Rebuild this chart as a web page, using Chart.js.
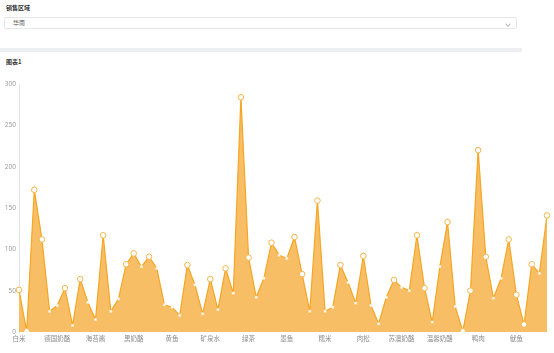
<!DOCTYPE html>
<html>
<head>
<meta charset="utf-8">
<script src="https://cdn.jsdelivr.net/npm/chart.js@4.4.0/dist/chart.umd.min.js"></script>
<style>
  html, body { margin: 0; padding: 0; background: #fff; width: 554px; height: 353px; overflow: hidden;
    font-family: "Noto Sans CJK SC", "Noto Sans", sans-serif; }
  .lbl { position: absolute; left: 6px; font-size: 6px; font-weight: bold; color: #333; line-height: 1; }
  .select { position: absolute; left: 4px; top: 17px; width: 513px; height: 12px; border: 1px solid #e6e6e6;
    border-radius: 2px; box-sizing: border-box; }
  .select span { position: absolute; left: 8px; top: 2px; font-size: 6px; color: #555; line-height: 1; }
  .chev { position: absolute; right: 6px; top: 4px; width: 3px; height: 3px; border-right: 1px solid #bbb;
    border-bottom: 1px solid #bbb; transform: rotate(45deg); }
  .band { position: absolute; left: 0; top: 48px; width: 522px; height: 4px; background: #eceef2; }
  #wrap { position: absolute; left: 0; top: 76px; width: 554px; height: 272px; }
</style>
</head>
<body>
<div class="lbl" style="top:5px">销售区域</div>
<div class="select"><span>华南</span><div class="chev"></div></div>
<div class="band"></div>
<div class="lbl" style="top:59px">图表1</div>
<div id="wrap"><canvas id="c" width="554" height="272"></canvas></div>
<script>
const categories = [
  "白米","白奶酪","饼干","糙米","大众奶酪","德国奶酪","蕃茄酱","光明奶酪","桂花糕","海参",
  "海苔酱","海鲜粉","蚝油","盒装牛奶","黑麦面包","黑奶酪","胡椒粉","花生","花生酱","黄豆",
  "黄鱼","鸡","鸡精","酱油","烤肉酱","矿泉水","辣椒酱","浪花奶酪","龙虾","芦笋",
  "绿茶","麻油","玫瑰茶","蜜桃汁","蘑菇","墨鱼","奶茶","柠檬汁","牛奶","牛肉干",
  "糯米","啤酒","苹果汁","葡萄干","巧克力","肉松","三合一麦片","沙茶","山渣片","薯条",
  "苏澳奶酪","糖果","甜酱","土豆","味精","温馨奶酪","虾米","虾子","小米","熏鱼",
  "鸭肉","盐","燕麦","椰奶","意大利奶酪","鱿鱼","玉米片","运动饮料","猪肉","猪肉干"
];
const salesValues = [
  51, 1, 172, 112, 25, 32, 53, 8, 64, 36,
  15, 117, 25, 40, 82, 95, 79, 91, 77, 33,
  30, 20, 81, 57, 22, 64, 27, 77, 47, 284,
  90, 42, 65, 108, 93, 89, 115, 70, 25, 159,
  25, 30, 81, 60, 35, 92, 32, 10, 42, 63,
  54, 50, 117, 53, 12, 79, 133, 31, 1, 50,
  220, 91, 41, 65, 112, 45, 9, 82, 71, 141
];
const yTicks = [0, 50, 100, 150, 200, 250, 300];
const labelEvery = 5;
// marker style per point (true = hollow ring, false = small dot) -- style only
const ringMarkers = [
  1,1,1,1,0,0,1,0,1,0, 0,1,0,0,1,1,0,1,0,0, 0,0,1,0,0,1,0,1,0,1,
  1,0,0,1,0,0,1,1,0,1, 0,0,1,0,0,1,0,0,0,1, 0,0,1,1,0,0,1,0,1,1,
  1,1,0,0,1,1,1,1,0,1
];

const ctx = document.getElementById('c').getContext('2d');
new Chart(ctx, {
  type: 'line',
  data: {
    labels: categories,
    datasets: [{
      data: salesValues,
      borderColor: '#f5a623',
      borderWidth: 1.2,
      backgroundColor: '#f7be66',
      fill: 'origin',
      tension: 0,
      pointStyle: (c) => ringMarkers[c.dataIndex] ? 'circle' : 'rect',
      pointRadius: (c) => ringMarkers[c.dataIndex] ? 2.8 : 1.6,
      pointBackgroundColor: '#ffffff',
      pointBorderColor: (c) => ringMarkers[c.dataIndex] ? '#f5b54a' : '#fde7c2',
      pointBorderWidth: (c) => ringMarkers[c.dataIndex] ? 1 : 0.5
    }]
  },
  options: {
    responsive: false,
    animation: false,
    devicePixelRatio: 1,
    layout: { padding: { top: 8, right: 7, bottom: 0, left: 0 } },
    plugins: { legend: { display: false }, tooltip: { enabled: false } },
    scales: {
      x: {
        grid: { display: false, drawTicks: false },
        border: { display: false },
        ticks: {
          autoSkip: false, maxRotation: 0, minRotation: 0,
          color: '#8c8c8c', padding: 3,
          font: { size: 6.5, family: '"Noto Sans CJK SC", sans-serif' },
          callback: function (v, i) { return i % labelEvery === 0 ? categories[i] : ''; }
        },
        afterFit: (s) => { s.height = 16; }
      },
      y: {
        min: yTicks[0], max: yTicks[yTicks.length - 1],
        grid: { display: false, drawTicks: false },
        border: { display: true, color: '#e3e3e3', width: 1 },
        afterBuildTicks: (s) => { s.ticks = yTicks.map(v => ({ value: v })); },
        ticks: {
          color: '#9a9a9a', padding: 3,
          font: { size: 6.5, family: '"Noto Sans", sans-serif' }
        },
        afterFit: (s) => { s.width = 19; }
      }
    }
  }
});
</script>
</body>
</html>
